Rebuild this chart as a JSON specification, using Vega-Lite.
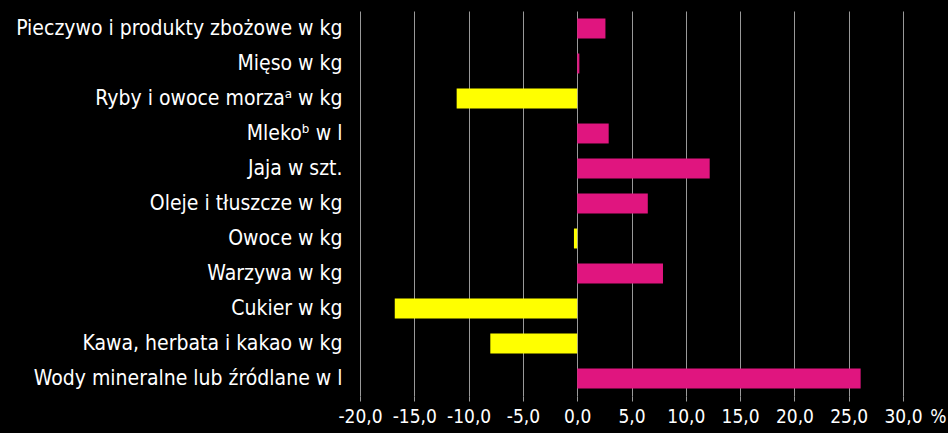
{
  "$schema": "https://vega.github.io/schema/vega-lite/v6.json",
  "autosize": {"type": "none"},
  "width": 543,
  "height": 385,
  "padding": {"left": 360, "top": 11, "right": 45, "bottom": 37},
  "background": "#000000",
  "config": {"view": {"stroke": null}, "font": "DejaVu Sans Condensed"},
  "data": {"values": [
    {"k": "Pieczywo i produkty zbożowe w kg", "v": 2.6},
    {"k": "Mięso w kg", "v": 0.2},
    {"k": "Ryby i owoce morzaᵃ w kg", "v": -11.1},
    {"k": "Mlekoᵇ w l", "v": 2.9},
    {"k": "Jaja w szt.", "v": 12.2},
    {"k": "Oleje i tłuszcze w kg", "v": 6.5},
    {"k": "Owoce w kg", "v": -0.3},
    {"k": "Warzywa w kg", "v": 7.9},
    {"k": "Cukier w kg", "v": -16.8},
    {"k": "Kawa, herbata i kakao w kg", "v": -8.0},
    {"k": "Wody mineralne lub źródlane w l", "v": 26.1}
  ]},
  "mark": {"type": "bar"},
  "encoding": {
    "y": {"field": "k", "type": "nominal", "sort": null,
      "scale": {"paddingInner": 0.43, "paddingOuter": 0.215},
      "axis": {"title": null, "ticks": false, "domain": false, "labelColor": "#ffffff", "labelFontSize": 21, "labelPadding": 18, "labelLimit": 400}},
    "x": {"field": "v", "type": "quantitative",
      "scale": {"domain": [-20, 30], "nice": false, "zero": false},
      "axis": {"values": [-20,-15,-10,-5,0,5,10,15,20,25,30],
        "labelExpr": "replace(replace(format(datum.value, '.1f'), '.', ','), '−', '-')",
        "labelOverlap": false, "labelFlush": false,
        "labelColor": "#ffffff", "labelFontSize": 19, "labelPadding": 6,
        "domain": false, "tickColor": "#999999", "tickSize": 5,
        "grid": true, "gridColor": "#999999", "gridWidth": 1,
        "title": "%", "titleColor": "#ffffff", "titleFontSize": 19, "titleFontWeight": "normal",
        "titleX": 586, "titleY": 26, "titleAlign": "right", "titleBaseline": "alphabetic"}},
    "color": {"condition": {"test": "datum.v < 0", "value": "#ffff00"}, "value": "#e0157f"}
  }
}
